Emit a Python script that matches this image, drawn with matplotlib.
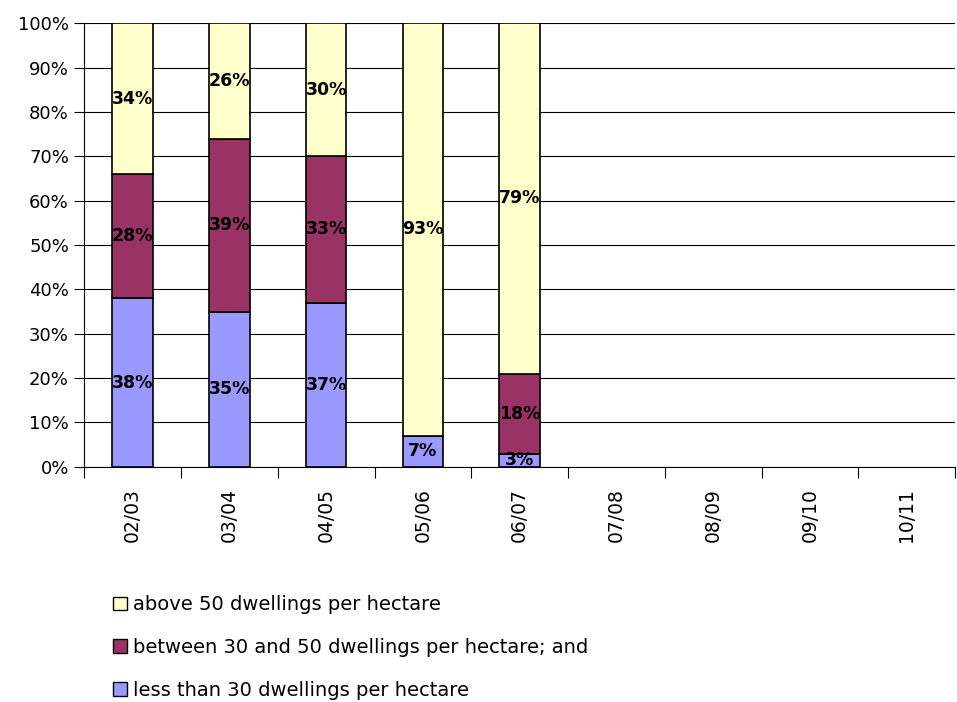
import numpy as np
import matplotlib.pyplot as plt
from matplotlib.patches import Patch
from matplotlib.ticker import PercentFormatter, FixedLocator

YEARS = ["02/03", "03/04", "04/05", "05/06", "06/07", "07/08", "08/09", "09/10", "10/11"]
LESS_30 = [38, 35, 37, 7, 3]
BETWEEN_30_50 = [28, 39, 33, 0, 18]
ABOVE_50 = [34, 26, 30, 93, 79]

SERIES = [
    ("less than 30 dwellings per hectare", LESS_30, "#9999ff"),
    ("between 30 and 50 dwellings per hectare; and", BETWEEN_30_50, "#993366"),
    ("above 50 dwellings per hectare", ABOVE_50, "#ffffcc"),
]

plt.rcParams["font.family"] = ["DejaVu Sans"]

fig = plt.figure(figsize=(9.57, 7.02), dpi=100)
ax = fig.add_axes([0.088, 0.335, 0.91, 0.632])

x = np.arange(len(LESS_30))
bottom = np.zeros(len(x))
for name, vals, color in SERIES:
    vals = np.array(vals, dtype=float)
    ax.bar(x, vals, bottom=bottom, width=0.42, color=color,
           edgecolor="black", linewidth=1.2, zorder=3)
    for xi, b, v in zip(x, bottom, vals):
        if v > 0:
            ax.text(xi, b + v / 2, f"{v:.0f}%", ha="center", va="center",
                    fontsize=12.5, fontweight="bold", zorder=4)
    bottom += vals

ax.set_xlim(-0.5, len(YEARS) - 0.5)
ax.set_ylim(0, 100)
ax.yaxis.set_major_locator(FixedLocator(np.arange(0, 101, 10)))
ax.yaxis.set_major_formatter(PercentFormatter(decimals=0))
ax.grid(axis="y", color="black", linewidth=0.8, zorder=0)

ax.set_xticks(np.arange(len(YEARS)))
ax.set_xticklabels(YEARS, rotation=90, fontsize=13.5)
ax.tick_params(axis="x", length=0, pad=15)
ax.set_xticks(np.arange(len(YEARS) + 1) - 0.5, minor=True)
ax.tick_params(axis="x", which="minor", length=8, width=0.8)
ax.tick_params(axis="y", labelsize=13, length=7, width=0.8, pad=4)

for side in ("top", "right"):
    ax.spines[side].set_visible(False)
ax.spines["left"].set_linewidth(0.8)
ax.spines["bottom"].set_linewidth(0.8)

handles = [Patch(facecolor=c, edgecolor="black", label=n) for n, _, c in SERIES[::-1]]
fig.legend(handles=handles, loc="upper left", bbox_to_anchor=(0.108, 0.166),
           frameon=False, fontsize=14, handlelength=0.7, handleheight=0.7,
           handletextpad=0.35, labelspacing=1.22, borderpad=0)

fig.savefig("out.png", dpi=100)
